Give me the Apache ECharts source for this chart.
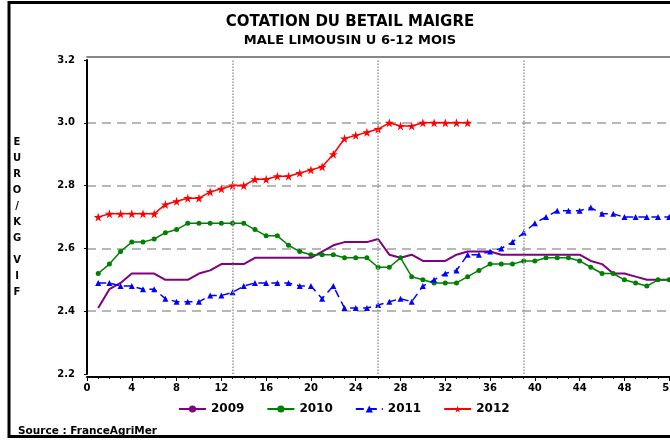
<!DOCTYPE html>
<html>
<head>
<meta charset="utf-8">
<script src="https://cdn.jsdelivr.net/npm/echarts@6/dist/echarts.min.js"></script>
<style>
html, body { margin: 0; padding: 0; background: #fff; }
#main { width: 670px; height: 441px; }
</style>
</head>
<body>
<div id="main"></div>
<script>
// semaines
var weeks = [1, 2, 3, 4, 5, 6, 7, 8, 9, 10, 11, 12, 13, 14, 15, 16, 17, 18, 19, 20, 21, 22, 23, 24, 25, 26,
             27, 28, 29, 30, 31, 32, 33, 34, 35, 36, 37, 38, 39, 40, 41, 42, 43, 44, 45, 46, 47, 48, 49, 50, 51, 52];
var years = ['2009', '2010', '2011', '2012'];
var quarterWeeks = [13, 26, 39];

var cot2009 = [2.41, 2.47, 2.49, 2.52, 2.52, 2.52, 2.50, 2.50, 2.50, 2.52, 2.53, 2.55, 2.55, 2.55, 2.57, 2.57, 2.57, 2.57,
               2.57, 2.57, 2.59, 2.61, 2.62, 2.62, 2.62, 2.63, 2.58, 2.57, 2.58, 2.56, 2.56, 2.56, 2.58, 2.59, 2.59, 2.59,
               2.58, 2.58, 2.58, 2.58, 2.58, 2.58, 2.58, 2.58, 2.56, 2.55, 2.52, 2.52, 2.51, 2.50, 2.50, 2.50];
var cot2010 = [2.52, 2.55, 2.59, 2.62, 2.62, 2.63, 2.65, 2.66, 2.68, 2.68, 2.68, 2.68, 2.68, 2.68, 2.66, 2.64, 2.64, 2.61,
               2.59, 2.58, 2.58, 2.58, 2.57, 2.57, 2.57, 2.54, 2.54, 2.57, 2.51, 2.50, 2.49, 2.49, 2.49, 2.51, 2.53, 2.55,
               2.55, 2.55, 2.56, 2.56, 2.57, 2.57, 2.57, 2.56, 2.54, 2.52, 2.52, 2.50, 2.49, 2.48, 2.50, 2.50];
var cot2011 = [2.49, 2.49, 2.48, 2.48, 2.47, 2.47, 2.44, 2.43, 2.43, 2.43, 2.45, 2.45, 2.46, 2.48, 2.49, 2.49, 2.49, 2.49,
               2.48, 2.48, 2.44, 2.48, 2.41, 2.41, 2.41, 2.42, 2.43, 2.44, 2.43, 2.48, 2.50, 2.52, 2.53, 2.58, 2.58, 2.59,
               2.60, 2.62, 2.65, 2.68, 2.70, 2.72, 2.72, 2.72, 2.73, 2.71, 2.71, 2.70, 2.70, 2.70, 2.70, 2.70];
var cot2012 = [2.70, 2.71, 2.71, 2.71, 2.71, 2.71, 2.74, 2.75, 2.76, 2.76, 2.78, 2.79, 2.80, 2.80, 2.82, 2.82, 2.83,
               2.83, 2.84, 2.85, 2.86, 2.90, 2.95, 2.96, 2.97, 2.98, 3.00, 2.99, 2.99, 3.00, 3.00, 3.00, 3.00, 3.00];

var FONT = '"DejaVu Sans", sans-serif';
var starPath = 'path://M50,0 L61,35 L98,35 L68,57 L79,91 L50,70 L21,91 L32,57 L2,35 L39,35 Z';

function pairs(vals) {
    return vals.map(function (v, i) { return [weeks[i], v]; });
}

var myChart = echarts.init(document.getElementById('main'), null, { renderer: 'canvas' });

var option = {
    animation: false,
    backgroundColor: '#fff',
    title: {
        text: 'COTATION DU BETAIL MAIGRE',
        subtext: 'MALE LIMOUSIN U 6-12 MOIS',
        left: 345,
        top: 10,
        textAlign: 'center',
        itemGap: 4,
        textStyle: { fontFamily: FONT, fontSize: 15, fontWeight: 'bold', color: '#000' },
        subtextStyle: { fontFamily: FONT, fontSize: 13, fontWeight: 'bold', color: '#000' }
    },
    legend: {
        data: years,
        left: 173,
        top: 398,
        itemWidth: 27,
        itemHeight: 9,
        itemGap: 22,
        textStyle: { fontFamily: FONT, fontSize: 12, fontWeight: 'bold', color: '#000' }
    },
    // le graphique déborde à droite comme l'original
    grid: { left: 87, top: 60, width: 627, height: 314, outerBoundsMode: 'none', containLabel: false },
    xAxis: [{
        type: 'value',
        position: 'bottom',
        min: 0,
        max: 56,
        interval: 4,
        offset: 3,
        axisLine: { lineStyle: { color: '#000', width: 2 } },
        axisTick: { length: 4, lineStyle: { color: '#000' } },
        minorTick: { show: true, splitNumber: 4, length: 2, lineStyle: { color: '#000' } },
        axisLabel: { margin: 6, fontFamily: FONT, fontSize: 10, fontWeight: 'bold', color: '#000' },
        splitLine: { show: false }
    }, {
        type: 'value',
        position: 'top',
        min: 0,
        max: 56,
        offset: 3,
        axisLine: { lineStyle: { color: '#888', width: 2 } },
        axisTick: { show: false },
        axisLabel: { show: false },
        splitLine: { show: false }
    }],
    yAxis: {
        type: 'value',
        min: 2.2,
        max: 3.2,
        interval: 0.2,
        offset: 4,
        axisLine: { show: true, lineStyle: { color: '#000', width: 2 } },
        axisTick: { show: true, length: 3, lineStyle: { color: '#000' } },
        axisLabel: {
            margin: 8, fontFamily: FONT, fontSize: 10, fontWeight: 'bold', color: '#000',
            formatter: function (v) { return v.toFixed(1); }
        },
        splitLine: {
            show: true, showMinLine: false, showMaxLine: false,
            lineStyle: { color: '#a0a0a0', type: [9, 6], width: 1.5 }
        }
    },
    graphic: [
        { type: 'rect', silent: true, shape: { x: 9, y: 2.5, width: 720, height: 434 },
          style: { fill: 'none', stroke: '#000', lineWidth: 3 } },
        { type: 'text', x: 17, y: 134, silent: true,
          style: { text: 'E\nU\nR\nO\n/\nK\nG', font: 'bold 10px ' + FONT, fill: '#000',
                   align: 'center', verticalAlign: 'top', lineHeight: 16 } },
        { type: 'text', x: 17, y: 252, silent: true,
          style: { text: 'V\nI\nF', font: 'bold 10px ' + FONT, fill: '#000',
                   align: 'center', verticalAlign: 'top', lineHeight: 16 } },
        { type: 'text', x: 18, y: 426, silent: true,
          style: { text: 'Source : FranceAgriMer', font: 'bold 10.5px ' + FONT, fill: '#000',
                   align: 'left', verticalAlign: 'top' } }
    ],
    series: [{
        name: '2009',
        type: 'line',
        xAxisIndex: 0,
        data: pairs(cot2009),
        showSymbol: false,
        symbol: 'none',
        lineStyle: { color: '#800080', width: 2 },
        itemStyle: { color: '#800080' },
        markLine: {
            silent: true,
            symbol: ['none', 'none'],
            label: { show: false },
            lineStyle: { color: '#999', type: 'dotted', width: 1.5 },
            data: quarterWeeks.map(function (w) { return { xAxis: w }; })
        }
    }, {
        name: '2010',
        type: 'line',
        xAxisIndex: 0,
        data: pairs(cot2010),
        symbol: 'circle',
        symbolSize: 5,
        lineStyle: { color: '#008000', width: 1.5 },
        itemStyle: { color: '#008000' }
    }, {
        name: '2011',
        type: 'line',
        xAxisIndex: 0,
        data: pairs(cot2011),
        symbol: 'triangle',
        symbolSize: 6,
        lineStyle: { color: '#0000ff', width: 1.5, type: [8, 5] },
        itemStyle: { color: '#0000ff' }
    }, {
        name: '2012',
        type: 'line',
        xAxisIndex: 0,
        data: pairs(cot2012),
        symbol: starPath,
        symbolSize: 9,
        lineStyle: { color: '#ff0000', width: 1.5 },
        itemStyle: { color: '#ff0000' }
    }]
};

myChart.setOption(option);
</script>
</body>
</html>
